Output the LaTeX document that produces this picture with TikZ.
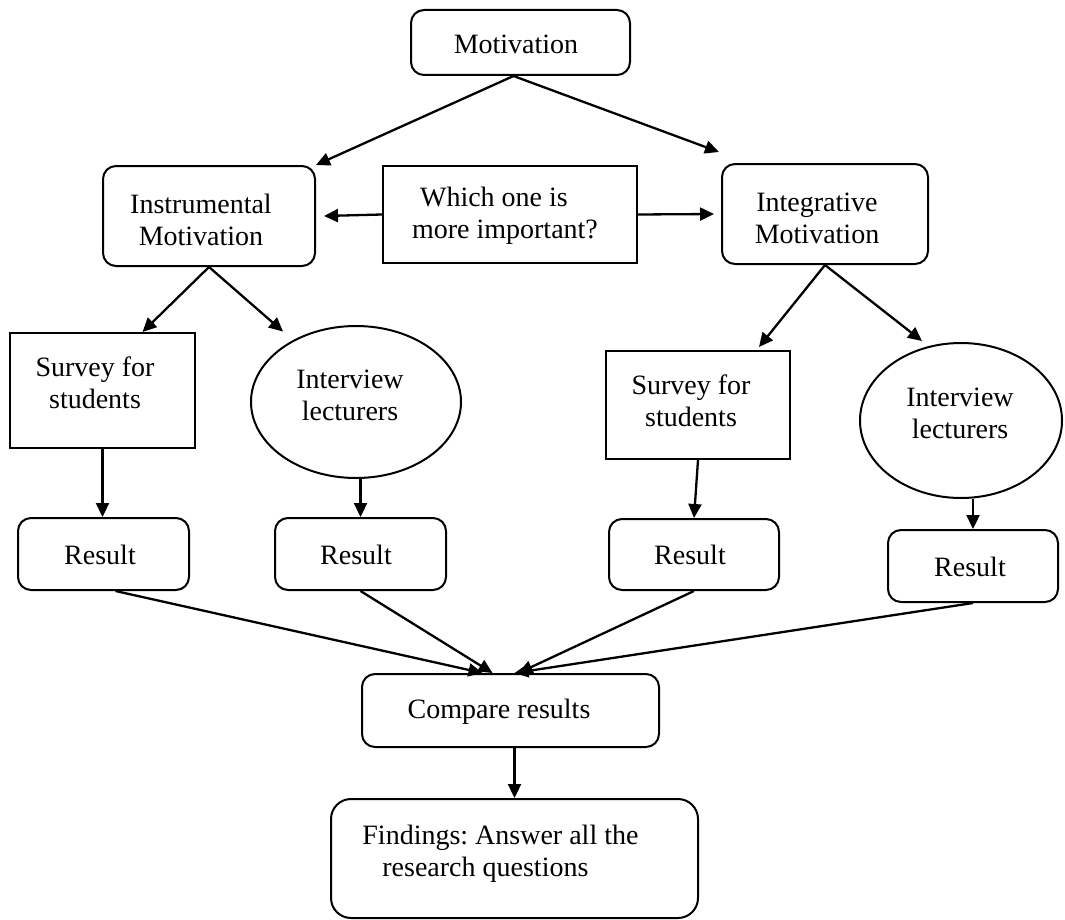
\documentclass[tikz,border=0pt]{standalone}
\usepackage{fontspec}
\setmainfont{Liberation Serif}
\usetikzlibrary{arrows.meta,shapes.geometric,calc}
\tikzset{
  rbox/.style={draw, line width=1pt, rounded corners=6.5pt, inner sep=0pt, align=center},
  sbox/.style={draw, line width=1pt, inner sep=0pt, align=center},
  ebox/.style={draw, line width=1pt, ellipse, inner sep=0pt},
  txt/.style={inner sep=0pt, align=center},
  arr/.style={line width=1.15pt, -{Triangle[length=7pt,width=6.5pt]}}
}
\begin{document}
\frenchspacing
\begin{tikzpicture}[x=0.5pt,y=-0.5pt,font=\fontsize{14}{16}\selectfont]
\useasboundingbox (0,0) rectangle (1065,920);
% nodes
\node[rbox, minimum width=109.5pt, minimum height=32.5pt] (mot) at (520.5,42.5) {};
\node[txt] (motT) at (516,44) {Motivation};
\node[rbox, minimum width=106pt, minimum height=50pt] (inst) at (209,216) {};
\node[txt] (instT) at (201,220) {Instrumental\\Motivation};
\node[sbox, minimum width=127pt, minimum height=48.5pt] (which) at (510,214.5) {};
\node[txt, align=left] (whichT) at (505,216) {\hspace{4pt}Which one is\\more important?};
\node[rbox, minimum width=103pt, minimum height=50pt] (integ) at (825,214) {};
\node[txt] (integT) at (817,218) {Integrative\\Motivation};
\node[sbox, minimum width=92.5pt, minimum height=57.5pt] (surv1) at (102.5,390.5) {};
\node[txt] (surv1T) at (95,383) {Survey for\\students};
\node[ebox, minimum width=105pt, minimum height=76pt] (ell1) at (356,402) {};
\node[txt] (ell1T) at (350,395) {Interview\\lecturers};
\node[sbox, minimum width=92pt, minimum height=54pt] (surv2) at (698,405) {};
\node[txt] (surv2T) at (691,401) {Survey for\\students};
\node[ebox, minimum width=101pt, minimum height=77.5pt] (ell2) at (961,420.5) {};
\node[txt] (ell2T) at (960,413) {Interview\\lecturers};
\node[rbox, minimum width=85.5pt, minimum height=36pt] (r1) at (103.5,554) {};
\node[txt] (r1T) at (100,555) {Result};
\node[rbox, minimum width=85.5pt, minimum height=36pt] (r2) at (360.5,554) {};
\node[txt] (r2T) at (356,555) {Result};
\node[rbox, minimum width=85pt, minimum height=35.5pt] (r3) at (694,554.5) {};
\node[txt] (r3T) at (690,555) {Result};
\node[rbox, minimum width=85pt, minimum height=36pt] (r4) at (973,566) {};
\node[txt] (r4T) at (970,567) {Result};
\node[rbox, minimum width=148.5pt, minimum height=36.5pt] (cmp) at (510.5,710.5) {};
\node[txt] (cmpT) at (499,712) {Compare results};
\node[rbox, rounded corners=10pt, minimum width=183.5pt, minimum height=59.5pt] (fnd) at (514.5,858.5) {};
\node[txt, align=left, anchor=west] (fndT) at (362,854) {Findings: Answer all the\\\hspace{10pt}research questions};
% connectors
\draw[arr] ([xshift=-3.5pt]mot.south) -- (inst.north east);
\draw[arr] ([xshift=-3.5pt]mot.south) -- ($(integ.north west)+(-2,-11)$);
\draw[arr] (which.west) -- ($(inst.east)+(8,0)$);
\draw[arr] (which.east) -- ($(integ.west)+(-7,0)$);
\draw[arr] (inst.south) -- ($(surv1.north)+(40,0)$);
\draw[arr] (inst.south) -- ($(ell1.north west)+(2,-16)$);
\draw[arr] (integ.south) -- ($(surv2.north)+(61,-3)$);
\draw[arr] (integ.south) -- ($(ell2.north)+(-39,-1)$);
\draw[arr] (surv1.south) -- (surv1.south |- r1.north);
\draw[arr] (r2.north |- ell1.south) -- (r2.north);
\draw[arr] (surv2.south) -- (r3.north);
\draw[arr] (r4.north |- ell2.south) -- (r4.north);
\draw[arr] ($(r1.south)+(12,0)$) -- ($(cmp.north)+(-28,0)$);
\draw[arr] (r2.south) -- ($(cmp.north)+(-18,0)$);
\draw[arr] (r3.south) -- ($(cmp.north)+(8,0)$);
\draw[arr] (r4.south) -- ($(cmp.north)+(4,0)$);
\draw[arr] (fnd.north |- cmp.south) -- (fnd.north);
\end{tikzpicture}
\end{document}
